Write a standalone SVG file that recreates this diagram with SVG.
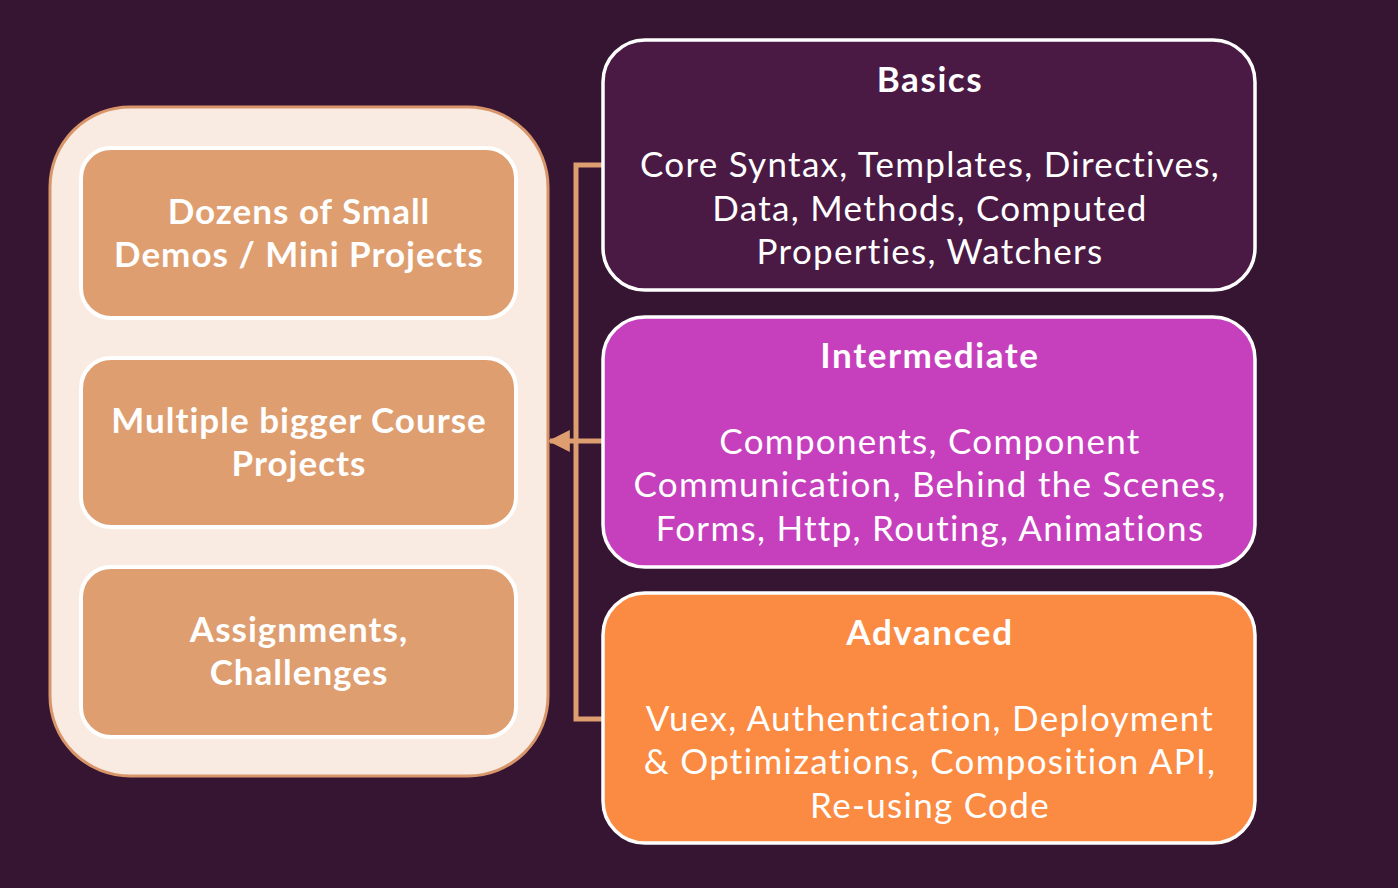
<svg xmlns="http://www.w3.org/2000/svg" width="1398" height="888" viewBox="0 0 1398 888">
  <defs>
    <style>
      .outer { fill: #f9ebe1; stroke: #d9956a; stroke-width: 3; }
      .item { fill: #de9e70; stroke: #ffffff; stroke-width: 4; }
      .item-text { font-family: Lato, "Open Sans", sans-serif; font-weight: 700; font-size: 35px; letter-spacing: 1px; fill: #ffffff; text-anchor: middle; }
      .topic { stroke: #ffffff; stroke-width: 3.5; }
      .title { font-family: Lato, "Open Sans", sans-serif; font-weight: 700; font-size: 35px; letter-spacing: 1.6px; fill: #ffffff; text-anchor: middle; }
      .body { font-family: Lato, "Open Sans", sans-serif; font-size: 35px; letter-spacing: 1.3px; fill: #ffffff; text-anchor: middle; }
      .link { fill: none; stroke: #de9e70; stroke-width: 5; }
    </style>
    <marker id="arrow" viewBox="0 0 10 10" refX="9" refY="5" markerWidth="4.4" markerHeight="4.4" orient="auto" markerUnits="strokeWidth">
      <path d="M0,0 L10,5 L0,10 z" fill="#de9e70"/>
    </marker>
  </defs>

  <rect width="1398" height="888" fill="#351532"/>

  <!-- practice container -->
  <g id="practice">
    <rect class="outer" x="50" y="107" width="498" height="669" rx="80"/>
  </g>
  <g id="demos">
    <rect class="item" x="81" y="148" width="435" height="170" rx="30"/>
    <text class="item-text" x="299" y="224">Dozens of Small</text>
    <text class="item-text" x="299" y="267">Demos / Mini Projects</text>
  </g>
  <g id="projects">
    <rect class="item" x="81" y="358" width="435" height="169" rx="30"/>
    <text class="item-text" x="299" y="433">Multiple bigger Course</text>
    <text class="item-text" x="299" y="476">Projects</text>
  </g>
  <g id="assignments">
    <rect class="item" x="81" y="567" width="435" height="170" rx="30"/>
    <text class="item-text" x="299" y="642">Assignments,</text>
    <text class="item-text" x="299" y="685">Challenges</text>
  </g>

  <!-- connectors -->
  <g id="connectors">
    <path class="link" d="M603,165 H576 V719 H603"/>
    <path class="link" d="M603,441 H550" marker-end="url(#arrow)"/>
  </g>

  <!-- topic boxes -->
  <g id="basics">
    <rect class="topic" x="603" y="40" width="652" height="250" rx="42" fill="#4a1a45"/>
    <text class="title" x="930" y="92">Basics</text>
    <text class="body" x="930" y="177">Core Syntax, Templates, Directives,</text>
    <text class="body" x="930" y="221">Data, Methods, Computed</text>
    <text class="body" x="930" y="264">Properties, Watchers</text>
  </g>
  <g id="intermediate">
    <rect class="topic" x="603" y="317" width="652" height="250" rx="42" fill="#c640bd"/>
    <text class="title" x="930" y="368">Intermediate</text>
    <text class="body" x="930" y="454">Components, Component</text>
    <text class="body" x="930" y="497">Communication, Behind the Scenes,</text>
    <text class="body" x="930" y="541">Forms, Http, Routing, Animations</text>
  </g>
  <g id="advanced">
    <rect class="topic" x="603" y="593" width="652" height="250" rx="42" fill="#fb8a42"/>
    <text class="title" x="930" y="645">Advanced</text>
    <text class="body" x="930" y="731">Vuex, Authentication, Deployment</text>
    <text class="body" x="930" y="774">&amp; Optimizations, Composition API,</text>
    <text class="body" x="930" y="818">Re-using Code</text>
  </g>
</svg>
